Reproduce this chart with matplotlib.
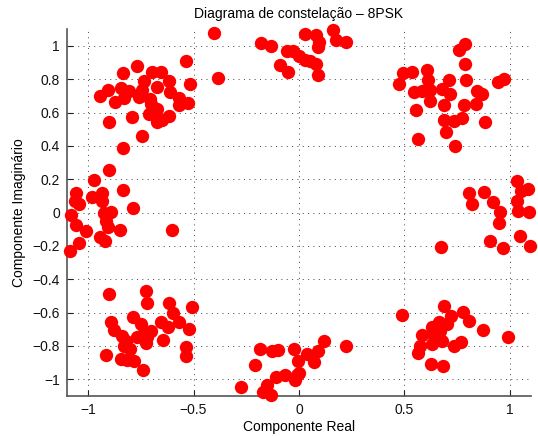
import matplotlib
matplotlib.use("Agg")
import matplotlib.pyplot as plt

plt.rcParams['font.family'] = ['Liberation Sans', 'DejaVu Sans']

# Received symbols (in-phase / quadrature), grouped by constellation region
ul_i = [-0.404, -0.385, -0.536, -0.518, -0.770, -0.835, -0.699, -0.656, -0.735, -0.618,
        -0.675, -0.906, -0.944, -0.845, -0.806, -0.830, -0.874, -0.746, -0.757, -0.707,
        -0.612, -0.570, -0.527, -0.570, -0.672, -0.713, -0.615, -0.675, -0.648, -0.792,
        -0.901, -0.743, -0.835, -0.704]
ul_q = [1.077, 0.809, 0.909, 0.771, 0.879, 0.837, 0.843, 0.843, 0.789, 0.787,
        0.753, 0.733, 0.697, 0.747, 0.729, 0.689, 0.663, 0.737, 0.691, 0.683,
        0.723, 0.689, 0.657, 0.643, 0.623, 0.589, 0.579, 0.542, 0.553, 0.571,
        0.542, 0.458, 0.390, 0.653]

up_i = [-0.178, -0.135, -0.059, -0.027, -0.001, 0.027, 0.051, 0.080, -0.092, -0.053,
        0.089, 0.027, 0.083, 0.094, 0.089, 0.162, 0.175, 0.225]
up_q = [1.017, 0.997, 0.969, 0.969, 0.937, 0.917, 0.909, 0.893, 0.883, 0.843,
        0.827, 1.073, 1.063, 1.023, 0.993, 1.093, 1.033, 1.023]

ur_i = [0.789, 0.759, 0.786, 0.494, 0.536, 0.473, 0.607, 0.611, 0.713, 0.792,
        0.942, 0.974, 0.547, 0.584, 0.623, 0.679, 0.715, 0.845, 0.868, 0.623,
        0.686, 0.784, 0.840, 0.555, 0.686, 0.737, 0.773, 0.884, 0.696, 0.566,
        0.738]
ur_q = [1.009, 0.977, 0.893, 0.837, 0.843, 0.773, 0.857, 0.793, 0.793, 0.793,
        0.783, 0.803, 0.723, 0.729, 0.733, 0.743, 0.713, 0.729, 0.713, 0.669,
        0.643, 0.643, 0.649, 0.617, 0.553, 0.549, 0.569, 0.542, 0.482, 0.442,
        0.398]

l_i = [-0.901, -0.972, -0.833, -1.059, -0.980, -0.933, -0.933, -1.064, -1.043, -0.786,
       -1.083, -0.925, -0.893, -0.917, -1.056, -0.906, -1.012, -0.851, -0.601, -0.945,
       -0.922, -1.043, -1.088]
l_q = [0.258, 0.196, 0.136, 0.118, 0.092, 0.118, 0.072, 0.072, 0.052, 0.028,
       -0.014, -0.004, 0.002, -0.048, -0.072, -0.088, -0.108, -0.104, -0.104, -0.148,
       -0.168, -0.184, -0.232]

r_i = [1.034, 1.085, 1.053, 0.805, 0.876, 0.821, 0.918, 1.034, 1.037, 1.089,
       0.952, 0.949, 1.046, 0.904, 0.968, 1.094, 0.671]
r_q = [0.192, 0.142, 0.128, 0.118, 0.126, 0.052, 0.062, 0.068, 0.012, 0.002,
       0.002, -0.064, -0.138, -0.168, -0.212, -0.198, -0.208]

ll_i = [-0.901, -0.727, -0.720, -0.617, -0.506, -0.598, -0.786, -0.570, -0.893, -0.751,
        -0.656, -0.622, -0.522, -0.878, -0.704, -0.735, -0.838, -0.767, -0.720, -0.822,
        -0.644, -0.723, -0.830, -0.799, -0.538, -0.917, -0.538, -0.846, -0.814, -0.783,
        -0.740]
ll_q = [-0.489, -0.473, -0.545, -0.545, -0.569, -0.605, -0.625, -0.659, -0.659, -0.669,
        -0.659, -0.689, -0.699, -0.705, -0.709, -0.725, -0.739, -0.745, -0.749, -0.769,
        -0.765, -0.785, -0.799, -0.819, -0.805, -0.853, -0.859, -0.879, -0.885, -0.893,
        -0.945]

lo_i = [0.118, 0.224, -0.186, -0.127, -0.099, -0.025, 0.089, 0.036, -0.006, 0.070,
        -0.209, -0.107, -0.064, -0.009, -0.017, 0.002, -0.277, -0.151, -0.170, -0.132]
lo_q = [-0.773, -0.799, -0.819, -0.829, -0.823, -0.819, -0.833, -0.849, -0.889, -0.899,
        -0.913, -0.989, -0.973, -0.973, -1.005, -0.965, -1.049, -1.033, -1.075, -1.093]

lr_i = [0.489, 0.686, 0.778, 0.721, 0.808, 0.663, 0.702, 0.631, 0.871, 0.667,
        0.584, 0.636, 0.991, 0.679, 0.769, 0.734, 0.631, 0.576, 0.563, 0.626,
        0.683]
lr_q = [-0.613, -0.559, -0.599, -0.619, -0.649, -0.659, -0.669, -0.689, -0.703, -0.709,
        -0.733, -0.729, -0.745, -0.769, -0.775, -0.799, -0.789, -0.799, -0.845, -0.909,
        -0.923]

I = ul_i + up_i + ur_i + l_i + r_i + ll_i + lo_i + lr_i
Q = ul_q + up_q + ur_q + l_q + r_q + ll_q + lo_q + lr_q

x_ticks = [-1, -0.5, 0, 0.5, 1]
x_labels = ['\u22121', '\u22120.5', '0', '0.5', '1']
y_ticks = [-1, -0.8, -0.6, -0.4, -0.2, 0, 0.2, 0.4, 0.6, 0.8, 1]
y_labels = ['\u22121', '\u22120.8', '\u22120.6', '\u22120.4', '\u22120.2', '0',
            '0.2', '0.4', '0.6', '0.8', '1']

fig = plt.figure(figsize=(5.38, 4.36), dpi=100)
ax = fig.add_axes([0.1245, 0.092, 0.8625, 0.841])

ax.plot(I, Q, 'o', color='#ff0000', markersize=9.6, markeredgewidth=0, linestyle='none',
        zorder=3, clip_on=False)

ax.set_xlim(-1.1, 1.1)
ax.set_ylim(-1.1, 1.1)
ax.set_xticks(x_ticks)
ax.set_xticklabels(x_labels)
ax.set_yticks(y_ticks)
ax.set_yticklabels(y_labels)
ax.grid(True, linestyle=(0, (1, 4.5)), color='#444444', linewidth=0.7)
ax.set_axisbelow(True)
for s in ['top', 'right']:
    ax.spines[s].set_visible(False)
for s in ['left', 'bottom']:
    ax.spines[s].set_color('#555555')
    ax.spines[s].set_linewidth(1.2)
    ax.spines[s].set_zorder(2)
ax.tick_params(direction='in', length=4, width=0.8, colors='#222222', labelsize=10,
               pad=5)
ax.tick_params(axis='both', labelcolor='#111111')

ax.set_title('Diagrama de constelação \u2013 8PSK', fontsize=10, pad=8)
ax.set_xlabel('Componente Real', fontsize=10, labelpad=2)
ax.set_ylabel('Componente Imaginário', fontsize=10, labelpad=5)

fig.savefig('out.png', dpi=100)
